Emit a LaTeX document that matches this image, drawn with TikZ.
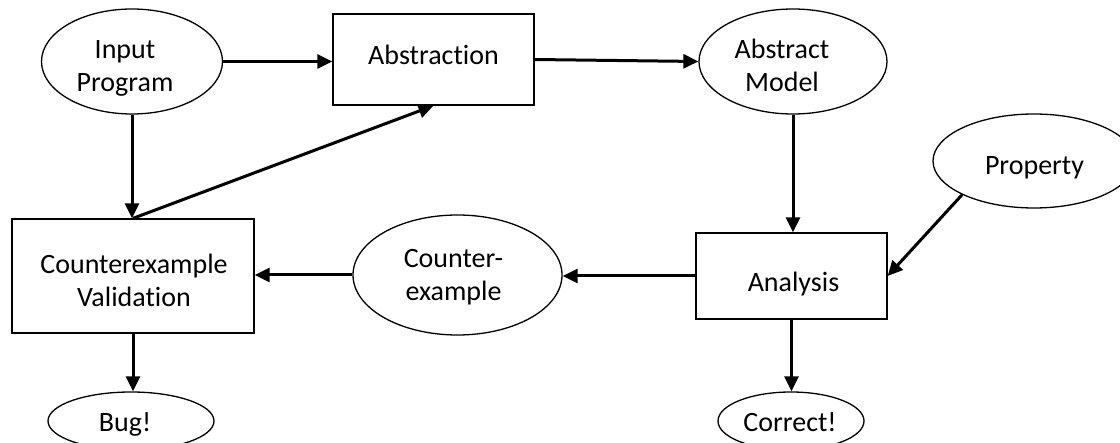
\documentclass[tikz,border=0pt]{standalone}
\usepackage{fontspec}
\setmainfont{Carlito}[Ligatures=NoCommon]
\usetikzlibrary{arrows.meta,shapes.geometric}
\begin{document}
\begin{tikzpicture}[x=1pt,y=-1pt,
  shapeline/.style={draw=black,line width=1.3pt},
  oval/.style={shapeline,ellipse,inner sep=0pt},
  boxnode/.style={shapeline,rectangle,inner sep=0pt},
  txt/.style={inner sep=0pt,font=\fontsize{28}{33.5}\selectfont},
  flow/.style={line width=3pt,-{Triangle[length=15pt,width=14pt]}}
]
\useasboundingbox (0,0) rectangle (1120,443);
\path[clip] (0,0) rectangle (1120,443);
% shapes
\node[oval,minimum width=181pt,minimum height=105pt] (inp) at (132,61.5) {};
\node[boxnode,minimum width=201pt,minimum height=91pt] (abs) at (433.5,59.5) {};
\node[oval,minimum width=188pt,minimum height=105pt] (am) at (793,61.5) {};
\node[oval,minimum width=202pt,minimum height=94pt] (prop) at (1034,161) {};
\node[boxnode,minimum width=191pt,minimum height=86pt] (ana) at (791.5,276) {};
\node[oval,minimum width=209pt,minimum height=120pt] (ce) at (457.5,275) {};
\node[boxnode,minimum width=242pt,minimum height=114pt] (cv) at (133,276) {};
\node[oval,minimum width=166pt,minimum height=58pt] (bug) at (131,421) {};
\node[oval,minimum width=146pt,minimum height=58pt] (cor) at (791,421) {};
% texts
\node[txt] (inpT) at (125,68.3) {\begin{tabular}{@{}c@{}}Input\\Program\end{tabular}};
\node[txt] (absT) at (433.5,57.6) {\begin{tabular}{@{}c@{}}Abstraction\end{tabular}};
\node[txt] (amT) at (782,68.3) {\begin{tabular}{@{}c@{}}Abstract\\Model\end{tabular}};
\node[txt] (propT) at (1034.5,167.8) {\begin{tabular}{@{}c@{}}Property\end{tabular}};
\node[txt] (anaT) at (793.5,285.3) {\begin{tabular}{@{}c@{}}Analysis\end{tabular}};
\node[txt] (ceT) at (453.5,277.3) {\begin{tabular}{@{}c@{}}Counter-\\example\end{tabular}};
\node[txt] (cvT) at (134,283.3) {\begin{tabular}{@{}c@{}}Counterexample\\Validation\end{tabular}};
\node[txt] (bugT) at (125,425.3) {\begin{tabular}{@{}c@{}}Bug!\end{tabular}};
\node[txt] (corT) at (790,425.3) {\begin{tabular}{@{}c@{}}Correct!\end{tabular}};
% connectors
\draw[flow] (inp.east) -- (inp.east -| abs.west);
\draw[flow] (abs.east) -- (am.west);
\draw[flow] (am.south) -- (am.south |- ana.north);
\draw[flow] (prop.south west) -- (ana.east);
\draw[flow] (ana.west) -- (ana.west -| ce.east);
\draw[flow] (ce.west) -- (ce.west -| cv.east);
\draw[flow] (inp.south) -- (inp.south |- cv.north);
\draw[flow] (cv.north) -- (abs.south);
\draw[flow] (cv.south) -- (cv.south |- bug.north);
\draw[flow] (ana.south) -- (ana.south |- cor.north);
\end{tikzpicture}
\end{document}
